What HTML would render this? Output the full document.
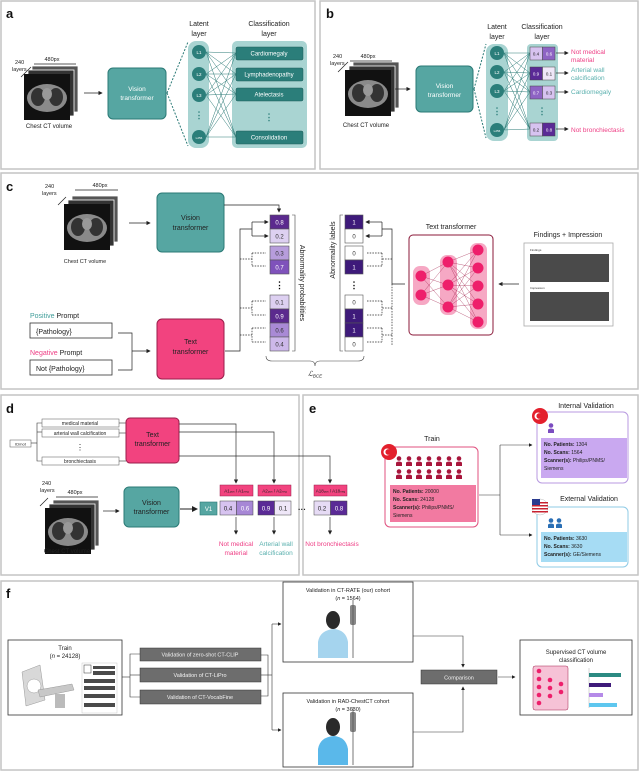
<!DOCTYPE html>
<html><head><meta charset="utf-8"><style>
html,body{margin:0;padding:0;background:#fff}
svg{display:block}
text{font-family:"Liberation Sans",sans-serif}
</style></head><body>
<svg width="640" height="771" viewBox="0 0 640 771" xmlns="http://www.w3.org/2000/svg">
<defs>
<marker id="ar" markerWidth="6" markerHeight="6" refX="5" refY="3" orient="auto"><path d="M0,0 L6,3 L0,6 z" fill="#222"/></marker>
<g id="ct">
<rect x="8" y="-8" width="46" height="46" fill="#555" stroke="#fff" stroke-width="0.8"/>
<rect x="4" y="-4" width="46" height="46" fill="#333" stroke="#fff" stroke-width="0.8"/>
<rect x="0" y="0" width="46" height="46" fill="#111"/>
<ellipse cx="23" cy="24" rx="20" ry="14" fill="#8a8a8a"/>
<ellipse cx="14" cy="23" rx="7" ry="9" fill="#333"/>
<ellipse cx="32" cy="23" rx="7" ry="9" fill="#333"/>
<ellipse cx="23" cy="20" rx="5" ry="6" fill="#999"/>
</g>
<g id="person"><circle cx="3" cy="2.5" r="2.3"/><path d="M0,10 L0,6.5 Q3,4.5 6,6.5 L6,10 z"/></g>
</defs>

<g fill="none" stroke="#c4c4c4" stroke-width="1.5">
<rect x="1" y="1" width="314" height="168"/>
<rect x="320" y="1" width="318" height="168"/>
<rect x="1" y="173" width="637" height="216"/>
<rect x="1" y="395" width="298" height="180"/>
<rect x="303" y="395" width="335" height="180"/>
<rect x="1" y="581" width="637" height="189"/>
</g>
<g font-weight="bold" font-size="13" fill="#111">
<text x="6" y="18">a</text><text x="326" y="18">b</text><text x="6" y="191">c</text>
<text x="6" y="413">d</text><text x="309" y="413">e</text><text x="6" y="598">f</text>
</g>

<!-- ===== panel a ===== -->
<use href="#ct" x="24" y="74"/>
<text x="15" y="64" font-size="5.5" fill="#222">240</text><text x="12" y="71" font-size="5.5" fill="#222">layers</text>
<line x1="21" y1="77" x2="31" y2="67" stroke="#222" stroke-width="0.7"/>
<line x1="34" y1="64" x2="76" y2="64" stroke="#222" stroke-width="0.7"/>
<text x="52" y="61" font-size="5.5" text-anchor="middle" fill="#222">480px</text>
<text x="49" y="128" font-size="6" text-anchor="middle" fill="#222">Chest CT volume</text>
<line x1="84" y1="93" x2="102" y2="93" stroke="#222" stroke-width="0.7" marker-end="url(#ar)"/>
<rect x="108" y="68" width="58" height="51" rx="5" fill="#56a6a2" stroke="#2b7a76"/>
<text x="137" y="91" font-size="6.5" text-anchor="middle" fill="#fff">Vision</text>
<text x="137" y="100" font-size="6.5" text-anchor="middle" fill="#fff">transformer</text>
<line x1="167" y1="93" x2="188" y2="42" stroke="#2b7a76" stroke-dasharray="2,1.5"/>
<line x1="167" y1="93" x2="188" y2="146" stroke="#2b7a76" stroke-dasharray="2,1.5"/>
<text x="199" y="26" font-size="7" text-anchor="middle" fill="#222">Latent</text>
<text x="199" y="36" font-size="7" text-anchor="middle" fill="#222">layer</text>
<text x="269" y="26" font-size="7" text-anchor="middle" fill="#222">Classification</text>
<text x="269" y="36" font-size="7" text-anchor="middle" fill="#222">layer</text>
<rect x="188" y="41" width="21" height="107" rx="8" fill="#a9d4d2"/>
<rect x="232" y="41" width="75" height="107" rx="5" fill="#a9d4d2"/>
<g stroke="#2b7a76" stroke-width="0.5">
<line x1="206" y1="52" x2="236" y2="53"/><line x1="206" y1="52" x2="236" y2="74"/><line x1="206" y1="52" x2="236" y2="94"/><line x1="206" y1="52" x2="236" y2="137"/>
<line x1="206" y1="74" x2="236" y2="53"/><line x1="206" y1="74" x2="236" y2="74"/><line x1="206" y1="74" x2="236" y2="94"/><line x1="206" y1="74" x2="236" y2="137"/>
<line x1="206" y1="95" x2="236" y2="53"/><line x1="206" y1="95" x2="236" y2="74"/><line x1="206" y1="95" x2="236" y2="94"/><line x1="206" y1="95" x2="236" y2="137"/>
<line x1="206" y1="137" x2="236" y2="53"/><line x1="206" y1="137" x2="236" y2="74"/><line x1="206" y1="137" x2="236" y2="94"/><line x1="206" y1="137" x2="236" y2="137"/>
</g>
<g fill="#2b7e7a"><circle cx="199" cy="52" r="7"/><circle cx="199" cy="74" r="7"/><circle cx="199" cy="95" r="7"/><circle cx="199" cy="137" r="7"/></g>
<g font-size="4.5" fill="#fff" text-anchor="middle"><text x="199" y="54">L1</text><text x="199" y="76">L2</text><text x="199" y="97">L3</text><text x="199" y="139" font-size="3">L256</text></g>
<text x="199" y="118" font-size="9" text-anchor="middle" fill="#2b7e7a" font-weight="bold">⋮</text>
<g fill="#2b7e7a" stroke="#1f5e5b" stroke-width="0.5">
<rect x="236" y="47" width="67" height="13" rx="1.5"/><rect x="236" y="68" width="67" height="13" rx="1.5"/><rect x="236" y="88" width="67" height="13" rx="1.5"/><rect x="236" y="131" width="67" height="13" rx="1.5"/></g>
<g font-size="6" fill="#fff" text-anchor="middle"><text x="269" y="55.5">Cardiomegaly</text><text x="269" y="76.5">Lymphadenopathy</text><text x="269" y="96.5">Atelectasis</text><text x="269" y="139.5">Consolidation</text></g>
<text x="269" y="120" font-size="9" text-anchor="middle" fill="#2b7e7a" font-weight="bold">⋮</text>

<!-- ===== panel b ===== -->
<use href="#ct" x="345" y="70"/>
<text x="333" y="58" font-size="5.5" fill="#222">240</text><text x="330" y="65" font-size="5.5" fill="#222">layers</text>
<line x1="338" y1="72" x2="348" y2="62" stroke="#222" stroke-width="0.7"/>
<line x1="350" y1="61" x2="392" y2="61" stroke="#222" stroke-width="0.7"/>
<text x="368" y="58" font-size="5.5" text-anchor="middle" fill="#222">480px</text>
<text x="366" y="127" font-size="6" text-anchor="middle" fill="#222">Chest CT volume</text>
<line x1="395" y1="89" x2="410" y2="89" stroke="#222" stroke-width="0.7" marker-end="url(#ar)"/>
<rect x="416" y="66" width="57" height="46" rx="5" fill="#56a6a2" stroke="#2b7a76"/>
<text x="444.5" y="88" font-size="6.5" text-anchor="middle" fill="#fff">Vision</text>
<text x="444.5" y="97" font-size="6.5" text-anchor="middle" fill="#fff">transformer</text>
<line x1="474" y1="89" x2="486" y2="44" stroke="#2b7a76" stroke-dasharray="2,1.5"/>
<line x1="474" y1="89" x2="486" y2="138" stroke="#2b7a76" stroke-dasharray="2,1.5"/>
<text x="497" y="29" font-size="7" text-anchor="middle" fill="#222">Latent</text>
<text x="497" y="39" font-size="7" text-anchor="middle" fill="#222">layer</text>
<text x="542" y="29" font-size="7" text-anchor="middle" fill="#222">Classification</text>
<text x="542" y="39" font-size="7" text-anchor="middle" fill="#222">layer</text>
<rect x="486" y="44" width="22" height="97" rx="8" fill="#a9d4d2"/>
<rect x="527" y="44" width="31" height="97" rx="4" fill="#a9d4d2"/>
<g stroke="#2b7a76" stroke-width="0.5">
<line x1="504" y1="53" x2="530" y2="53"/><line x1="504" y1="53" x2="530" y2="73"/><line x1="504" y1="53" x2="530" y2="92"/><line x1="504" y1="53" x2="530" y2="129"/>
<line x1="504" y1="72" x2="530" y2="53"/><line x1="504" y1="72" x2="530" y2="73"/><line x1="504" y1="72" x2="530" y2="92"/><line x1="504" y1="72" x2="530" y2="129"/>
<line x1="504" y1="91" x2="530" y2="53"/><line x1="504" y1="91" x2="530" y2="73"/><line x1="504" y1="91" x2="530" y2="92"/><line x1="504" y1="91" x2="530" y2="129"/>
<line x1="504" y1="130" x2="530" y2="53"/><line x1="504" y1="130" x2="530" y2="73"/><line x1="504" y1="130" x2="530" y2="92"/><line x1="504" y1="130" x2="530" y2="129"/>
</g>
<g fill="#2b7e7a"><circle cx="497" cy="53" r="7"/><circle cx="497" cy="72" r="7"/><circle cx="497" cy="91" r="7"/><circle cx="497" cy="130" r="7"/></g>
<g font-size="4.5" fill="#fff" text-anchor="middle"><text x="497" y="55">L1</text><text x="497" y="74">L2</text><text x="497" y="93">L3</text><text x="497" y="132" font-size="3">L256</text></g>
<text x="497" y="114" font-size="9" text-anchor="middle" fill="#2b7e7a" font-weight="bold">⋮</text>
<text x="542" y="114" font-size="9" text-anchor="middle" fill="#2b7e7a" font-weight="bold">⋮</text>
<g stroke="#444" stroke-width="0.5">
<rect x="530" y="47" width="12.5" height="13" fill="#d7c3f0"/><rect x="542.5" y="47" width="12.5" height="13" fill="#8e63c4"/>
<rect x="530" y="67" width="12.5" height="13" fill="#5a2a96"/><rect x="542.5" y="67" width="12.5" height="13" fill="#efe7f8"/>
<rect x="530" y="86" width="12.5" height="13" fill="#8e63c4"/><rect x="542.5" y="86" width="12.5" height="13" fill="#d7c3f0"/>
<rect x="530" y="123" width="12.5" height="13" fill="#d7c3f0"/><rect x="542.5" y="123" width="12.5" height="13" fill="#5a2a96"/>
</g>
<g font-size="4.5" text-anchor="middle">
<text x="536" y="55.5" fill="#222">0.4</text><text x="549" y="55.5" fill="#fff">0.6</text>
<text x="536" y="75.5" fill="#fff">0.9</text><text x="549" y="75.5" fill="#222">0.1</text>
<text x="536" y="94.5" fill="#fff">0.7</text><text x="549" y="94.5" fill="#222">0.3</text>
<text x="536" y="131.5" fill="#222">0.2</text><text x="549" y="131.5" fill="#fff">0.8</text></g>
<g stroke="#222" stroke-width="0.7" marker-end="url(#ar)">
<line x1="556" y1="53" x2="568" y2="53"/><line x1="556" y1="73" x2="568" y2="73"/><line x1="556" y1="92" x2="568" y2="92"/><line x1="556" y1="129" x2="568" y2="129"/></g>
<g font-size="6.5">
<text x="571" y="54" fill="#ee3d84">Not medical</text><text x="571" y="62" fill="#ee3d84">material</text>
<text x="571" y="72" fill="#5ab0ae">Arterial wall</text><text x="571" y="80" fill="#5ab0ae">calcification</text>
<text x="571" y="94" fill="#5ab0ae">Cardiomegaly</text>
<text x="571" y="132" fill="#ee3d84">Not bronchiectasis</text></g>

<!-- ===== panel c ===== -->
<use href="#ct" x="64" y="204"/>
<text x="45" y="188" font-size="5.5" fill="#222">240</text><text x="42" y="195" font-size="5.5" fill="#222">layers</text>
<line x1="58" y1="205" x2="66" y2="197" stroke="#222" stroke-width="0.7"/>
<line x1="75" y1="190" x2="118" y2="190" stroke="#222" stroke-width="0.7"/>
<text x="100" y="187" font-size="5.5" text-anchor="middle" fill="#222">480px</text>
<text x="85" y="263" font-size="5.5" text-anchor="middle" fill="#222">Chest CT volume</text>
<line x1="129" y1="223" x2="150" y2="223" stroke="#222" stroke-width="0.7" marker-end="url(#ar)"/>
<rect x="157" y="193" width="67" height="59" rx="5" fill="#56a6a2" stroke="#2b7a76"/>
<text x="190.5" y="220" font-size="7" text-anchor="middle" fill="#222">Vision</text>
<text x="190.5" y="230" font-size="7" text-anchor="middle" fill="#222">transformer</text>
<text x="30" y="318" font-size="7" fill="#222"><tspan fill="#3f9d99">Positive</tspan> Prompt</text>
<rect x="30" y="323" width="82" height="15" fill="#fff" stroke="#333" stroke-width="0.8"/>
<text x="36" y="334" font-size="7" fill="#222">{Pathology}</text>
<text x="30" y="355" font-size="7" fill="#222"><tspan fill="#ee3d84">Negative</tspan> Prompt</text>
<rect x="30" y="360" width="82" height="15" fill="#fff" stroke="#333" stroke-width="0.8"/>
<text x="36" y="371" font-size="7" fill="#222">Not {Pathology}</text>
<polyline points="118,333 132,333 132,370 118,370" fill="none" stroke="#222" stroke-width="0.7"/>
<line x1="132" y1="351" x2="150" y2="351" stroke="#222" stroke-width="0.7" marker-end="url(#ar)"/>
<rect x="157" y="319" width="67" height="60" rx="5" fill="#f2437f" stroke="#9a1e4b"/>
<text x="190.5" y="344" font-size="7" text-anchor="middle" fill="#222">Text</text>
<text x="190.5" y="354" font-size="7" text-anchor="middle" fill="#222">transformer</text>
<polyline points="224,205 279,205 279,212" fill="none" stroke="#222" stroke-width="0.7" marker-end="url(#ar)"/>
<polyline points="225,351 240,351 240,229 252,229" fill="none" stroke="#222" stroke-width="0.7"/>
<polyline points="252,222 252,236" fill="none" stroke="#222" stroke-width="0.7"/>
<line x1="252" y1="222" x2="268" y2="222" stroke="#222" stroke-width="0.7" marker-end="url(#ar)"/>
<line x1="252" y1="236" x2="268" y2="236" stroke="#222" stroke-width="0.7" marker-end="url(#ar)"/>
<g fill="none" stroke="#222" stroke-width="0.7" stroke-dasharray="1.5,1.2">
<line x1="240" y1="259" x2="252" y2="259"/><line x1="252" y1="253" x2="252" y2="266"/>
<line x1="252" y1="253" x2="266" y2="253"/><line x1="252" y1="266" x2="266" y2="266"/>
<line x1="240" y1="308" x2="252" y2="308"/><line x1="252" y1="301" x2="252" y2="315"/>
<line x1="252" y1="301" x2="266" y2="301"/><line x1="252" y1="315" x2="266" y2="315"/>
<line x1="240" y1="335" x2="252" y2="335"/><line x1="252" y1="328" x2="252" y2="342"/>
<line x1="252" y1="328" x2="266" y2="328"/><line x1="252" y1="342" x2="266" y2="342"/>
</g>
<g stroke="#555" stroke-width="0.6">
<rect x="270" y="215" width="19" height="14" fill="#5b2a8e"/><rect x="270" y="229" width="19" height="14" fill="#ddd0f1"/>
<rect x="270" y="246" width="19" height="14" fill="#b79ddc"/><rect x="270" y="260" width="19" height="14" fill="#7f52bb"/>
<rect x="270" y="295" width="19" height="14" fill="#ddd0f1"/><rect x="270" y="309" width="19" height="14" fill="#5b2a8e"/>
<rect x="270" y="323" width="19" height="14" fill="#a98ad5"/><rect x="270" y="337" width="19" height="14" fill="#cdb8ea"/>
</g>
<g font-size="6" text-anchor="middle">
<text x="279.5" y="224.5" fill="#fff">0.8</text><text x="279.5" y="238.5" fill="#333">0.2</text>
<text x="279.5" y="255.5" fill="#333">0.3</text><text x="279.5" y="269.5" fill="#fff">0.7</text>
<text x="279.5" y="304.5" fill="#333">0.1</text><text x="279.5" y="318.5" fill="#fff">0.9</text>
<text x="279.5" y="332.5" fill="#333">0.6</text><text x="279.5" y="346.5" fill="#333">0.4</text></g>
<text x="279.5" y="288" font-size="9" text-anchor="middle" font-weight="bold">⋮</text>
<polyline points="292,215 295,215 295,351 292,351" fill="none" stroke="#444" stroke-width="0.6"/>
<text transform="translate(300,283) rotate(90)" font-size="7" text-anchor="middle" fill="#222">Abnormality probabilities</text>
<text transform="translate(335,250) rotate(-90)" font-size="7" text-anchor="middle" fill="#222">Abnormality labels</text>
<polyline points="343,215 340,215 340,351 343,351" fill="none" stroke="#444" stroke-width="0.6"/>
<g stroke="#555" stroke-width="0.6">
<rect x="345" y="215" width="18" height="14" fill="#3e1a7a"/><rect x="345" y="229" width="18" height="14" fill="#fff"/>
<rect x="345" y="246" width="18" height="14" fill="#fff"/><rect x="345" y="260" width="18" height="14" fill="#3e1a7a"/>
<rect x="345" y="295" width="18" height="14" fill="#fff"/><rect x="345" y="309" width="18" height="14" fill="#3e1a7a"/>
<rect x="345" y="323" width="18" height="14" fill="#3e1a7a"/><rect x="345" y="337" width="18" height="14" fill="#fff"/>
</g>
<g font-size="6" text-anchor="middle">
<text x="354" y="224.5" fill="#fff">1</text><text x="354" y="238.5" fill="#333">0</text>
<text x="354" y="255.5" fill="#333">0</text><text x="354" y="269.5" fill="#fff">1</text>
<text x="354" y="304.5" fill="#333">0</text><text x="354" y="318.5" fill="#fff">1</text>
<text x="354" y="332.5" fill="#fff">1</text><text x="354" y="346.5" fill="#333">0</text></g>
<text x="354" y="288" font-size="9" text-anchor="middle" font-weight="bold">⋮</text>
<path d="M266,356 Q266,361 272,361 L310,361 Q315,361 315,366 Q315,361 320,361 L358,361 Q364,361 364,356" fill="none" stroke="#444" stroke-width="0.6"/>
<text x="315" y="376" font-size="7" text-anchor="middle" font-style="italic" fill="#222">ℒ<tspan font-size="4.5" dy="1.5">BCE</tspan></text>
<polyline points="405,284 392,284 392,229 382,229" fill="none" stroke="#222" stroke-width="0.7"/>
<line x1="382" y1="222" x2="382" y2="236" stroke="#222" stroke-width="0.7"/>
<line x1="382" y1="222" x2="366" y2="222" stroke="#222" stroke-width="0.7" marker-end="url(#ar)"/>
<line x1="382" y1="236" x2="366" y2="236" stroke="#222" stroke-width="0.7" marker-end="url(#ar)"/>
<g fill="none" stroke="#222" stroke-width="0.7" stroke-dasharray="1.5,1.2">
<line x1="392" y1="284" x2="392" y2="345"/>
<line x1="392" y1="259" x2="382" y2="259"/><line x1="382" y1="253" x2="382" y2="266"/>
<line x1="382" y1="253" x2="367" y2="253"/><line x1="382" y1="266" x2="367" y2="266"/>
<line x1="392" y1="308" x2="382" y2="308"/><line x1="382" y1="301" x2="382" y2="315"/>
<line x1="382" y1="301" x2="367" y2="301"/><line x1="382" y1="315" x2="367" y2="315"/>
<line x1="392" y1="335" x2="382" y2="335"/><line x1="382" y1="328" x2="382" y2="342"/>
<line x1="382" y1="328" x2="367" y2="328"/><line x1="382" y1="342" x2="367" y2="342"/>
</g>
<text x="451" y="229" font-size="7" text-anchor="middle" fill="#222">Text transformer</text>
<rect x="409" y="235" width="84" height="100" rx="4" fill="#fff" stroke="#8b1a3a" stroke-width="1"/>
<rect x="413" y="266" width="17" height="39" rx="7" fill="#f6a8c4"/>
<rect x="440" y="255" width="17" height="60" rx="7" fill="#f6a8c4"/>
<rect x="470" y="243" width="17" height="86" rx="7" fill="#f6a8c4"/>
<g stroke="#a3244f" stroke-width="0.35">
<line x1="421" y1="276" x2="448" y2="262"/><line x1="421" y1="276" x2="448" y2="285"/><line x1="421" y1="276" x2="448" y2="307"/>
<line x1="421" y1="295" x2="448" y2="262"/><line x1="421" y1="295" x2="448" y2="285"/><line x1="421" y1="295" x2="448" y2="307"/>
<line x1="448" y1="262" x2="478" y2="250"/><line x1="448" y1="262" x2="478" y2="268"/><line x1="448" y1="262" x2="478" y2="286"/><line x1="448" y1="262" x2="478" y2="304"/><line x1="448" y1="262" x2="478" y2="322"/>
<line x1="448" y1="285" x2="478" y2="250"/><line x1="448" y1="285" x2="478" y2="268"/><line x1="448" y1="285" x2="478" y2="286"/><line x1="448" y1="285" x2="478" y2="304"/><line x1="448" y1="285" x2="478" y2="322"/>
<line x1="448" y1="307" x2="478" y2="250"/><line x1="448" y1="307" x2="478" y2="268"/><line x1="448" y1="307" x2="478" y2="286"/><line x1="448" y1="307" x2="478" y2="304"/><line x1="448" y1="307" x2="478" y2="322"/>
</g>
<g fill="#ee1f6b"><circle cx="421" cy="276" r="5.5"/><circle cx="421" cy="295" r="5.5"/>
<circle cx="448" cy="262" r="5.5"/><circle cx="448" cy="285" r="5.5"/><circle cx="448" cy="307" r="5.5"/>
<circle cx="478" cy="250" r="5.5"/><circle cx="478" cy="268" r="5.5"/><circle cx="478" cy="286" r="5.5"/><circle cx="478" cy="304" r="5.5"/><circle cx="478" cy="322" r="5.5"/></g>
<line x1="519" y1="284" x2="499" y2="284" stroke="#222" stroke-width="0.7" marker-end="url(#ar)"/>
<text x="568" y="237" font-size="7" text-anchor="middle" fill="#222">Findings + Impression</text>
<rect x="524" y="243" width="89" height="83" fill="#fff" stroke="#aaa" stroke-width="0.8"/>
<text x="530" y="251" font-size="3" fill="#333">Findings</text>
<rect x="530" y="254" width="79" height="28" fill="#4a4a4a"/>
<text x="530" y="289" font-size="3" fill="#333">Impression</text>
<rect x="530" y="292" width="79" height="29" fill="#4a4a4a"/>

<!-- ===== panel d ===== -->
<rect x="10" y="440" width="21" height="7" fill="#fff" stroke="#555" stroke-width="0.5"/>
<text x="20.5" y="445.5" font-size="4" text-anchor="middle" fill="#222">ID/not</text>
<polyline points="31,443 37,443" fill="none" stroke="#333" stroke-width="0.6"/>
<polyline points="42,423 37,423 37,461 42,461" fill="none" stroke="#333" stroke-width="0.6"/>
<line x1="37" y1="432" x2="42" y2="432" stroke="#333" stroke-width="0.6"/>
<g fill="#fff" stroke="#555" stroke-width="0.5">
<rect x="42" y="419" width="77" height="8"/><rect x="42" y="429" width="77" height="8"/><rect x="42" y="457" width="77" height="8"/></g>
<g font-size="5" text-anchor="middle" fill="#222">
<text x="80" y="425">medical material</text><text x="80" y="435">arterial wall calcification</text><text x="80" y="463">bronchiectasis</text>
<text x="80" y="450" font-size="8">⋮</text></g>
<g stroke="#333" stroke-width="0.6"><line x1="119" y1="423" x2="126" y2="423"/><line x1="119" y1="433" x2="126" y2="433"/><line x1="119" y1="461" x2="126" y2="461"/></g>
<rect x="126" y="418" width="53" height="45" rx="4" fill="#f2437f" stroke="#9a1e4b"/>
<text x="152.5" y="437" font-size="7" text-anchor="middle" fill="#222">Text</text>
<text x="152.5" y="446" font-size="7" text-anchor="middle" fill="#222">transformer</text>
<g fill="none" stroke="#333" stroke-width="0.7">
<polyline points="179,424 236,424 236,483" marker-end="url(#ar)"/>
<polyline points="179,432 274,432 274,483" marker-end="url(#ar)"/>
<polyline points="179,456 330,456 330,483" marker-end="url(#ar)"/>
</g>
<use href="#ct" x="45" y="508"/>
<text x="42" y="485" font-size="5.5" fill="#222">240</text><text x="40" y="492" font-size="5.5" fill="#222">layers</text>
<line x1="40" y1="506" x2="48" y2="498" stroke="#222" stroke-width="0.7"/>
<line x1="56" y1="497" x2="98" y2="497" stroke="#222" stroke-width="0.7"/>
<text x="75" y="494" font-size="5.5" text-anchor="middle" fill="#222">480px</text>
<text x="67" y="553" font-size="6" text-anchor="middle" fill="#222">Chest CT volume</text>
<line x1="103" y1="511" x2="119" y2="511" stroke="#222" stroke-width="0.7" marker-end="url(#ar)"/>
<rect x="124" y="487" width="55" height="40" rx="5" fill="#56a6a2" stroke="#2b7a76"/>
<text x="151.5" y="505" font-size="7" text-anchor="middle" fill="#222">Vision</text>
<text x="151.5" y="514" font-size="7" text-anchor="middle" fill="#222">transformer</text>
<line x1="180" y1="509" x2="197" y2="509" stroke="#222" stroke-width="1" marker-end="url(#ar)"/>
<rect x="200" y="502" width="17" height="13" fill="#56a6a2" stroke="#2b7a76" stroke-width="0.6"/>
<text x="208.5" y="511" font-size="6" text-anchor="middle" fill="#fff">V1</text>
<g fill="#f2437f" stroke="#9a1e4b" stroke-width="0.5">
<rect x="220" y="485" width="33" height="11"/><rect x="258" y="485" width="33" height="11"/><rect x="314" y="485" width="33" height="11"/></g>
<g font-size="4.5" text-anchor="middle" fill="#222">
<text x="236.5" y="492.5">A1<tspan font-size="3">pos</tspan> / A1<tspan font-size="3">neg</tspan></text>
<text x="274.5" y="492.5">A2<tspan font-size="3">pos</tspan> / A2<tspan font-size="3">neg</tspan></text>
<text x="330.5" y="492.5">A18<tspan font-size="3">pos</tspan> / A18<tspan font-size="3">neg</tspan></text></g>
<g stroke="#444" stroke-width="0.5">
<rect x="220" y="501" width="16.5" height="14" fill="#d7c3f0"/><rect x="236.5" y="501" width="16.5" height="14" fill="#a787d6"/>
<rect x="258" y="501" width="16.5" height="14" fill="#5a2a96"/><rect x="274.5" y="501" width="16.5" height="14" fill="#efe7f8"/>
<rect x="314" y="501" width="16.5" height="14" fill="#e6dbf5"/><rect x="330.5" y="501" width="16.5" height="14" fill="#5a2a96"/></g>
<g font-size="6" text-anchor="middle">
<text x="228" y="510.5" fill="#222">0.4</text><text x="245" y="510.5" fill="#fff">0.6</text>
<text x="266" y="510.5" fill="#fff">0.9</text><text x="283" y="510.5" fill="#222">0.1</text>
<text x="322" y="510.5" fill="#222">0.2</text><text x="339" y="510.5" fill="#fff">0.8</text></g>
<text x="302" y="512" font-size="8" text-anchor="middle" fill="#222" font-weight="bold">···</text>
<g stroke="#333" stroke-width="0.7" marker-end="url(#ar)">
<line x1="236" y1="517" x2="236" y2="534"/><line x1="274" y1="517" x2="274" y2="534"/><line x1="330" y1="517" x2="330" y2="534"/></g>
<g font-size="6.5" text-anchor="middle">
<text x="236" y="546" fill="#ee3d84">Not medical</text><text x="236" y="555" fill="#ee3d84">material</text>
<text x="276" y="546" fill="#5ab0ae">Arterial wall</text><text x="276" y="555" fill="#5ab0ae">calcification</text>
<text x="332" y="546" fill="#ee3d84">Not bronchiectasis</text></g>

<!-- ===== panel e ===== -->
<text x="432" y="441" font-size="7" text-anchor="middle" fill="#222">Train</text>
<rect x="385" y="447" width="93" height="80" rx="5" fill="#fff" stroke="#e0517f"/>
<circle cx="389" cy="452" r="8" fill="#e3202d"/>
<circle cx="387" cy="452" r="3.5" fill="#fff"/><circle cx="388.3" cy="452" r="2.9" fill="#e3202d"/>
<g fill="#a8163c">
<use href="#person" x="396" y="456"/><use href="#person" x="406" y="456"/><use href="#person" x="416" y="456"/><use href="#person" x="426" y="456"/><use href="#person" x="436" y="456"/><use href="#person" x="446" y="456"/><use href="#person" x="456" y="456"/>
<use href="#person" x="396" y="469"/><use href="#person" x="406" y="469"/><use href="#person" x="416" y="469"/><use href="#person" x="426" y="469"/><use href="#person" x="436" y="469"/><use href="#person" x="446" y="469"/><use href="#person" x="456" y="469"/>
</g>
<rect x="390" y="485" width="86" height="37" fill="#f27aa1"/>
<g font-size="5" fill="#222"><text x="393" y="493"><tspan font-weight="bold">No. Patients:</tspan> 20000</text>
<text x="393" y="501"><tspan font-weight="bold">No. Scans:</tspan> 24128</text>
<text x="393" y="509"><tspan font-weight="bold">Scanner(s):</tspan> Philips/PNMS/</text>
<text x="393" y="517">Siemens</text></g>
<polyline points="479,495 500,495" fill="none" stroke="#333" stroke-width="0.6"/>
<polyline points="500,535 500,445" fill="none" stroke="#333" stroke-width="0.6"/>
<line x1="500" y1="445" x2="532" y2="445" stroke="#333" stroke-width="0.6" marker-end="url(#ar)"/>
<line x1="500" y1="535" x2="532" y2="535" stroke="#333" stroke-width="0.6" marker-end="url(#ar)"/>
<text x="586" y="408" font-size="7" text-anchor="middle" fill="#222">Internal Validation</text>
<rect x="537" y="412" width="91" height="71" rx="5" fill="#fff" stroke="#b89ae0"/>
<circle cx="540" cy="416" r="8" fill="#e3202d"/>
<circle cx="538" cy="416" r="3.5" fill="#fff"/><circle cx="539.3" cy="416" r="2.9" fill="#e3202d"/>
<g fill="#7b4cc0"><use href="#person" x="548" y="423"/></g>
<rect x="541" y="438" width="86" height="40" fill="#c9a8f0"/>
<g font-size="5" fill="#222"><text x="544" y="446"><tspan font-weight="bold">No. Patients:</tspan> 1304</text>
<text x="544" y="454"><tspan font-weight="bold">No. Scans:</tspan> 1564</text>
<text x="544" y="462"><tspan font-weight="bold">Scanner(s):</tspan> Philips/PNMS/</text>
<text x="544" y="470">Siemens</text></g>
<text x="589" y="501" font-size="7" text-anchor="middle" fill="#222">External Validation</text>
<rect x="537" y="507" width="91" height="60" rx="5" fill="#fff" stroke="#8fcbe6"/>
<circle cx="540" cy="507" r="8" fill="#fff" stroke="#aaa" stroke-width="0.4"/>
<g fill="#c8202f"><rect x="532" y="502" width="16" height="1.5"/><rect x="532" y="505" width="16" height="1.5"/><rect x="532" y="508" width="16" height="1.5"/><rect x="532" y="511" width="16" height="1.5"/></g>
<rect x="532" y="499" width="8" height="6" fill="#2a3b8f"/>
<g fill="#2a6fb5"><use href="#person" x="548" y="518"/><use href="#person" x="556" y="518"/></g>
<rect x="541" y="532" width="86" height="30" fill="#a6dcf4"/>
<g font-size="5" fill="#222"><text x="544" y="540"><tspan font-weight="bold">No. Patients:</tspan> 3630</text>
<text x="544" y="548"><tspan font-weight="bold">No. Scans:</tspan> 3630</text>
<text x="544" y="556"><tspan font-weight="bold">Scanner(s):</tspan> GE/Siemens</text></g>

<!-- ===== panel f ===== -->
<rect x="8" y="640" width="114" height="75" fill="#fff" stroke="#333" stroke-width="0.8"/>
<text x="65" y="650" font-size="6" text-anchor="middle" fill="#222">Train</text>
<text x="65" y="658" font-size="6" text-anchor="middle" fill="#222">(<tspan font-style="italic">n</tspan> = 24128)</text>
<path d="M22,672 L40,665 L45,700 L26,706 z" fill="#d8d8d8" stroke="#999" stroke-width="0.5"/>
<circle cx="34" cy="686" r="7" fill="#fff" stroke="#999" stroke-width="0.5"/>
<path d="M38,690 L72,684 L74,690 L40,697 z" fill="#c8c8c8" stroke="#999" stroke-width="0.5"/>
<rect x="55" y="694" width="10" height="14" fill="#bbb"/>
<rect x="82" y="663" width="35" height="50" fill="#fff" stroke="#bbb" stroke-width="0.4"/>
<rect x="84" y="665" width="7" height="8" fill="#fff" stroke="#333" stroke-width="0.5"/>
<g fill="#4a4a4a"><rect x="93" y="666" width="22" height="3"/><rect x="93" y="671" width="22" height="4"/><rect x="84" y="679" width="31" height="4"/><rect x="84" y="686" width="31" height="4"/><rect x="84" y="694" width="31" height="4"/><rect x="84" y="703" width="31" height="4"/></g>
<g fill="none" stroke="#333" stroke-width="0.6">
<polyline points="122,677 130,677"/><polyline points="140,654 130,654 130,697 140,697"/>
<line x1="130" y1="675" x2="140" y2="675"/>
<polyline points="261,655 268,655 268,696 261,696"/><line x1="261" y1="675" x2="272" y2="675"/>
<line x1="272" y1="624" x2="272" y2="730"/>
<line x1="272" y1="624" x2="281" y2="624" marker-end="url(#ar)"/>
<line x1="272" y1="730" x2="281" y2="730" marker-end="url(#ar)"/>
</g>
<g fill="#6d6d6d" stroke="#333" stroke-width="0.5">
<rect x="140" y="648" width="121" height="13"/><rect x="140" y="668" width="121" height="14"/><rect x="140" y="690" width="121" height="14"/></g>
<g font-size="5.5" fill="#f2f2f2" text-anchor="middle">
<text x="200" y="656.5">Validation of zero-shot CT-CLIP</text>
<text x="200" y="677">Validation of CT-LiPro</text>
<text x="200" y="699">Validation of CT-VocabFine</text></g>
<rect x="283" y="582" width="130" height="80" fill="#fff" stroke="#333" stroke-width="0.8"/>
<text x="348" y="592" font-size="5.5" text-anchor="middle" fill="#222">Validation in CT-RATE (our) cohort</text>
<text x="348" y="600" font-size="5.5" text-anchor="middle" fill="#222">(<tspan font-style="italic">n</tspan> = 1564)</text>
<rect x="283" y="693" width="130" height="74" fill="#fff" stroke="#333" stroke-width="0.8"/>
<text x="348" y="703" font-size="5.5" text-anchor="middle" fill="#222">Validation in RAD-ChestCT cohort</text>
<text x="348" y="711" font-size="5.5" text-anchor="middle" fill="#222">(<tspan font-style="italic">n</tspan> = 3630)</text>
<path d="M318,658 L318,642 Q320,630 334,629 Q346,630 348,642 L348,658 z" fill="#a5d4ee"/>
<ellipse cx="333" cy="620" rx="7" ry="9" fill="#2a2a2a"/>
<rect x="350" y="605" width="6" height="20" rx="2" fill="#888"/>
<line x1="353" y1="600" x2="353" y2="658" stroke="#555" stroke-width="0.8"/>
<path d="M318,765 L318,749 Q320,737 334,736 Q346,737 348,749 L348,765 z" fill="#5ab8ea"/>
<ellipse cx="333" cy="727" rx="7" ry="9" fill="#2a2a2a"/>
<rect x="350" y="712" width="6" height="20" rx="2" fill="#888"/>
<line x1="353" y1="707" x2="353" y2="765" stroke="#555" stroke-width="0.8"/>
<g fill="none" stroke="#333" stroke-width="0.6">
<polyline points="413,636 463,636 463,667" marker-end="url(#ar)"/>
<polyline points="413,732 463,732 463,687" marker-end="url(#ar)"/>
<line x1="498" y1="677" x2="515" y2="677" marker-end="url(#ar)"/></g>
<rect x="421" y="670" width="76" height="14" fill="#6d6d6d" stroke="#333" stroke-width="0.5"/>
<text x="459" y="679.5" font-size="5.5" text-anchor="middle" fill="#f2f2f2">Comparison</text>
<rect x="520" y="640" width="112" height="75" fill="#fff" stroke="#333" stroke-width="0.8"/>
<text x="576" y="654" font-size="6" text-anchor="middle" fill="#222">Supervised CT volume</text>
<text x="576" y="662" font-size="6" text-anchor="middle" fill="#222">classification</text>
<rect x="533" y="666" width="35" height="44" rx="2" fill="#f6c2d6" stroke="#a3244f" stroke-width="0.5"/>
<g fill="#ee1f6b"><circle cx="539" cy="671" r="2.3"/><circle cx="539" cy="679" r="2.3"/><circle cx="539" cy="687" r="2.3"/><circle cx="539" cy="695" r="2.3"/><circle cx="539" cy="703" r="2.3"/>
<circle cx="550" cy="680" r="2.3"/><circle cx="550" cy="688" r="2.3"/><circle cx="550" cy="696" r="2.3"/>
<circle cx="561" cy="684" r="2.3"/><circle cx="561" cy="692" r="2.3"/></g>
<line x1="589" y1="668" x2="589" y2="708" stroke="#999" stroke-width="0.4"/>
<rect x="589" y="673" width="32" height="4" fill="#2c8a82"/>
<rect x="589" y="683" width="22" height="4" fill="#3e1a7a"/>
<rect x="589" y="693" width="14" height="4" fill="#b58ae8"/>
<rect x="589" y="703" width="28" height="4" fill="#5ec7ef"/>
</svg>
</body></html>
